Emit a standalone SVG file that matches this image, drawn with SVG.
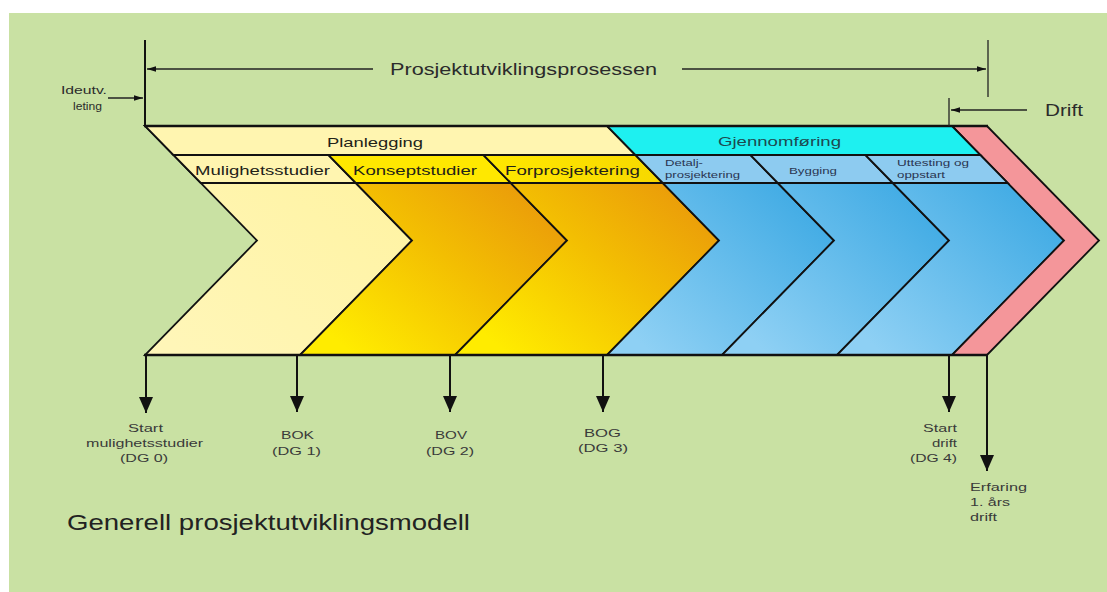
<svg xmlns="http://www.w3.org/2000/svg" width="1107" height="592" viewBox="0 0 1107 592">
<style>
.t{font-family:"Liberation Sans",Arial,sans-serif;fill:#2b2b2b}
.sm{font-size:11px;fill:#3a3a3a}
.hd{font-size:13.5px;fill:#222218}
.bl{font-size:9.5px;fill:#2a3550}
.ln{stroke:#111;stroke-width:1.8;fill:none;stroke-linejoin:miter}
.thin{stroke:#222;stroke-width:1.3;fill:none}
.ar{stroke:#111;stroke-width:2;fill:none}
</style>
<defs>
<linearGradient id="gOr" x1="0.9" y1="0.15" x2="0.15" y2="0.95">
<stop offset="0" stop-color="#E8920C"/>
<stop offset="0.5" stop-color="#F3BE02"/>
<stop offset="1" stop-color="#FFEC00"/>
</linearGradient>
<linearGradient id="gBl" x1="0.9" y1="0.15" x2="0.15" y2="0.95">
<stop offset="0" stop-color="#36A6E2"/>
<stop offset="1" stop-color="#8ED0F4"/>
</linearGradient>
<linearGradient id="gPale" x1="0.9" y1="0.15" x2="0.1" y2="0.95">
<stop offset="0" stop-color="#FFF3A2"/>
<stop offset="1" stop-color="#FFF6B8"/>
</linearGradient>
<linearGradient id="gFor" x1="0" y1="0" x2="1" y2="0">
<stop offset="0" stop-color="#FFE800"/>
<stop offset="1" stop-color="#F7D800"/>
</linearGradient>
<marker id="big" markerUnits="userSpaceOnUse" markerWidth="17" markerHeight="15" refX="16" refY="7" orient="auto">
<path d="M0,0 L16,7 L0,14 z" fill="#111"/>
</marker>
<marker id="small" markerUnits="userSpaceOnUse" markerWidth="10" markerHeight="6" refX="9" refY="2.75" orient="auto">
<path d="M0,0 L9,2.75 L0,5.5 z" fill="#111"/>
</marker>
</defs>

<rect x="0" y="0" width="1107" height="592" fill="#ffffff"/>
<rect x="9" y="13" width="1098" height="579" fill="#C9E1A3"/>

<!-- chevron bodies -->
<g id="chevron-mulighetsstudier"><polygon class="ln" style="fill:url(#gPale)" points="145,126 300,126 412,240.5 300,355 145,355 257,240.5"/></g>
<g id="chevron-konseptstudier"><polygon class="ln" style="fill:url(#gOr)" points="300,126 455,126 567,240.5 455,355 300,355 412,240.5"/></g>
<g id="chevron-forprosjektering"><polygon class="ln" style="fill:url(#gOr)" points="455,126 607,126 719,240.5 607,355 455,355 567,240.5"/></g>
<g id="chevron-detaljprosjektering"><polygon class="ln" style="fill:url(#gBl)" points="607,126 722,126 834,240.5 722,355 607,355 719,240.5"/></g>
<g id="chevron-bygging"><polygon class="ln" style="fill:url(#gBl)" points="722,126 837,126 949,240.5 837,355 722,355 834,240.5"/></g>
<g id="chevron-uttesting"><polygon class="ln" style="fill:url(#gBl)" points="837,126 952,126 1064,240.5 952,355 837,355 949,240.5"/></g>
<g id="chevron-drift"><polygon class="ln" style="fill:#F4969A" points="952,126 987,126 1099,240.5 987,355 952,355 1064,240.5"/></g>

<!-- header rows -->
<g id="phase-planlegging">
<polygon class="ln" style="fill:#FFF5B0" points="145,126 607,126 635.4,155 173.4,155"/>
<text class="t hd" x="327" y="147" textLength="96" lengthAdjust="spacingAndGlyphs">Planlegging</text>
</g>
<g id="phase-gjennomforing">
<polygon class="ln" style="fill:#1EF0F0" points="607,126 952,126 980.4,155 635.4,155"/>
<text class="t hd" x="718" y="146" textLength="123" lengthAdjust="spacingAndGlyphs" style="fill:#1d4a50">Gjennomføring</text>
</g>
<g id="cell-mulighetsstudier">
<polygon class="ln" style="fill:#FFF5B0" points="173.4,155 328.4,155 355.8,183 200.8,183"/>
<text class="t hd" x="195" y="175" textLength="135" lengthAdjust="spacingAndGlyphs">Mulighetsstudier</text>
</g>
<g id="cell-konseptstudier">
<polygon class="ln" style="fill:#FFE800" points="328.4,155 483.4,155 510.8,183 355.8,183"/>
<text class="t hd" x="353" y="175" textLength="124" lengthAdjust="spacingAndGlyphs">Konseptstudier</text>
</g>
<g id="cell-forprosjektering">
<polygon class="ln" style="fill:url(#gFor)" points="483.4,155 635.4,155 662.8,183 510.8,183"/>
<text class="t hd" x="505" y="175" textLength="135" lengthAdjust="spacingAndGlyphs">Forprosjektering</text>
</g>
<g id="cell-detaljprosjektering">
<polygon class="ln" style="fill:#8DCBF0" points="635.4,155 750.4,155 777.8,183 662.8,183"/>
<text class="t bl" x="665" y="166" textLength="38" lengthAdjust="spacingAndGlyphs">Detalj-</text>
<text class="t bl" x="665" y="178" textLength="75" lengthAdjust="spacingAndGlyphs">prosjektering</text>
</g>
<g id="cell-bygging">
<polygon class="ln" style="fill:#8DCBF0" points="750.4,155 865.4,155 892.8,183 777.8,183"/>
<text class="t bl" x="789" y="174" textLength="48" lengthAdjust="spacingAndGlyphs">Bygging</text>
</g>
<g id="cell-uttesting">
<polygon class="ln" style="fill:#8DCBF0" points="865.4,155 980.4,155 1007.8,183 892.8,183"/>
<text class="t bl" x="897" y="166" textLength="72" lengthAdjust="spacingAndGlyphs">Uttesting og</text>
<text class="t bl" x="897" y="178" textLength="48" lengthAdjust="spacingAndGlyphs">oppstart</text>
</g>

<!-- outer top/bottom lines -->
<g id="frame">
<line x1="144" y1="126" x2="988" y2="126" stroke="#111" stroke-width="2.6"/>
<line x1="144" y1="355" x2="988" y2="355" stroke="#111" stroke-width="2.6"/>
</g>

<!-- connectors -->
<g id="connectors">
<line class="ar" x1="145" y1="40" x2="145" y2="126"/>
<line class="thin" x1="988" y1="40" x2="988" y2="97"/>
<line class="thin" x1="373" y1="69" x2="147" y2="69" marker-end="url(#small)"/>
<line class="thin" x1="682" y1="69" x2="986" y2="69" marker-end="url(#small)"/>
<line class="thin" x1="108" y1="98" x2="143" y2="98" marker-end="url(#small)"/>
<line class="thin" x1="949" y1="98" x2="949" y2="126"/>
<line class="thin" x1="1027" y1="110" x2="951" y2="110" marker-end="url(#small)"/>
<line class="ar" x1="146" y1="355" x2="146" y2="413" marker-end="url(#big)"/>
<line class="ar" x1="297" y1="355" x2="297" y2="412" marker-end="url(#big)"/>
<line class="ar" x1="450" y1="355" x2="450" y2="412" marker-end="url(#big)"/>
<line class="ar" x1="603" y1="355" x2="603" y2="412" marker-end="url(#big)"/>
<line class="ar" x1="949" y1="355" x2="949" y2="412" marker-end="url(#big)"/>
<line class="ar" x1="987" y1="355" x2="987" y2="471" marker-end="url(#big)"/>
</g>

<!-- top labels -->
<g id="label-prosess"><text class="t" x="390" y="75" font-size="16.5" textLength="267" lengthAdjust="spacingAndGlyphs">Prosjektutviklingsprosessen</text></g>
<g id="label-ideutvikling">
<text class="t" x="61" y="94" font-size="11" textLength="46" lengthAdjust="spacingAndGlyphs">Ideutv.</text>
<text class="t" x="73" y="110" font-size="11" textLength="29" lengthAdjust="spacingAndGlyphs">leting</text>
</g>
<g id="label-drift"><text class="t" x="1045" y="116" font-size="16" textLength="38" lengthAdjust="spacingAndGlyphs">Drift</text></g>

<!-- milestone labels -->
<g id="ms-dg0">
<text class="t sm" x="128" y="432" textLength="35" lengthAdjust="spacingAndGlyphs">Start</text>
<text class="t sm" x="86" y="447" textLength="117" lengthAdjust="spacingAndGlyphs">mulighetsstudier</text>
<text class="t sm" x="120" y="462" textLength="48" lengthAdjust="spacingAndGlyphs">(DG 0)</text>
</g>
<g id="ms-dg1">
<text class="t sm" x="281" y="439" textLength="33" lengthAdjust="spacingAndGlyphs">BOK</text>
<text class="t sm" x="272" y="455" textLength="49" lengthAdjust="spacingAndGlyphs">(DG 1)</text>
</g>
<g id="ms-dg2">
<text class="t sm" x="435" y="439" textLength="32" lengthAdjust="spacingAndGlyphs">BOV</text>
<text class="t sm" x="426" y="455" textLength="48" lengthAdjust="spacingAndGlyphs">(DG 2)</text>
</g>
<g id="ms-dg3">
<text class="t sm" x="584" y="437" textLength="37" lengthAdjust="spacingAndGlyphs">BOG</text>
<text class="t sm" x="578" y="452" textLength="50" lengthAdjust="spacingAndGlyphs">(DG 3)</text>
</g>
<g id="ms-dg4">
<text class="t sm" x="923" y="432" textLength="34" lengthAdjust="spacingAndGlyphs">Start</text>
<text class="t sm" x="932" y="447" textLength="25" lengthAdjust="spacingAndGlyphs">drift</text>
<text class="t sm" x="910" y="462" textLength="47" lengthAdjust="spacingAndGlyphs">(DG 4)</text>
</g>
<g id="ms-erfaring">
<text class="t sm" x="970" y="491" textLength="57" lengthAdjust="spacingAndGlyphs">Erfaring</text>
<text class="t sm" x="970" y="506" textLength="40" lengthAdjust="spacingAndGlyphs">1. års</text>
<text class="t sm" x="970" y="521" textLength="27" lengthAdjust="spacingAndGlyphs">drift</text>
</g>

<g id="title"><text class="t" x="67" y="530" font-size="22" textLength="403" lengthAdjust="spacingAndGlyphs" style="fill:#222">Generell prosjektutviklingsmodell</text></g>
</svg>
